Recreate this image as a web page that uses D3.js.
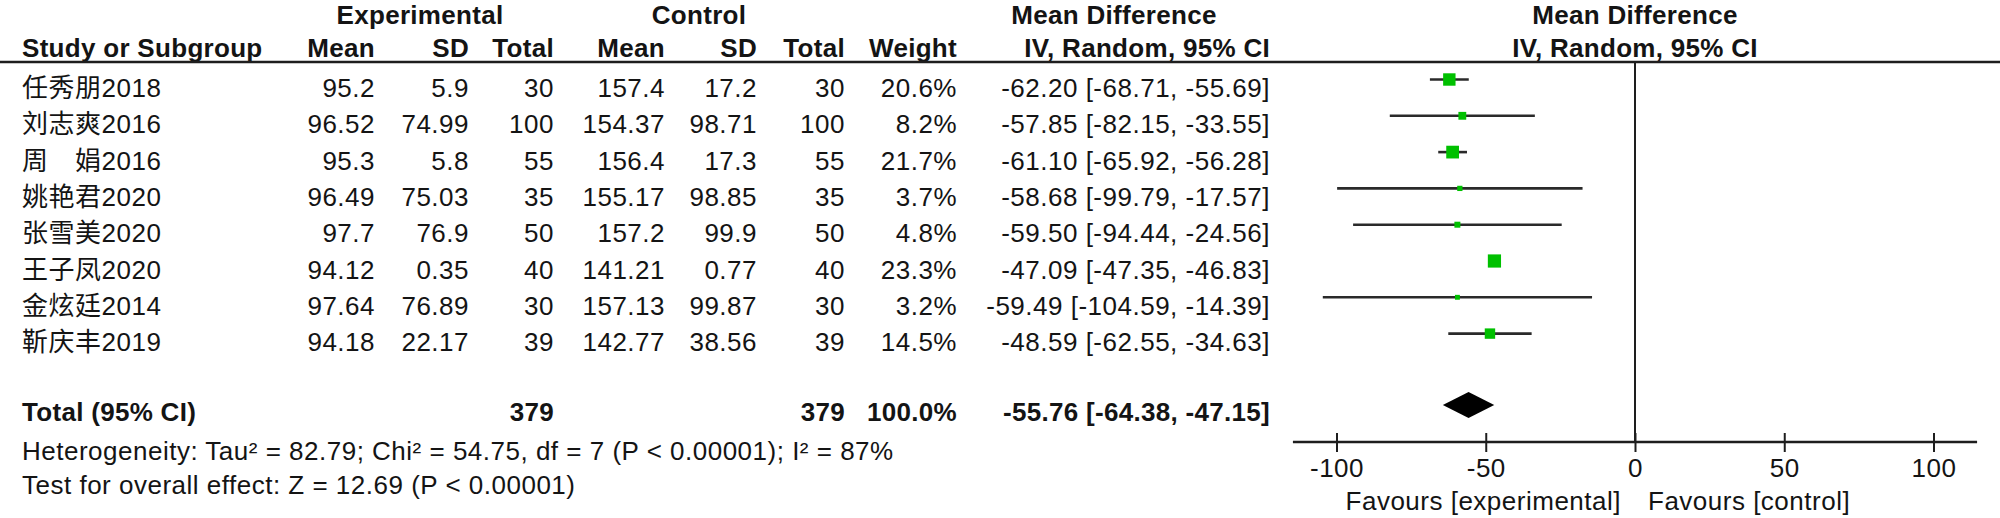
<!DOCTYPE html>
<html><head><meta charset="utf-8">
<script src="https://cdn.jsdelivr.net/npm/d3@7"></script>
<style>
html,body{margin:0;padding:0;background:#fff;}
svg text{font-family:"Liberation Sans",Arial,"Noto Sans CJK SC",sans-serif;fill:#141414;font-size:26px;}
</style></head><body><svg id="chart" width="2000" height="518"></svg>
<script>
// ---------------- data ----------------
const studies   = ["任秀朋2018","刘志爽2016","周　娟2016","姚艳君2020","张雪美2020","王子凤2020","金炫廷2014","靳庆丰2019"];
const expMean   = ["95.2","96.52","95.3","96.49","97.7","94.12","97.64","94.18"];
const expSD     = ["5.9","74.99","5.8","75.03","76.9","0.35","76.89","22.17"];
const expTotal  = [30,100,55,35,50,40,30,39];
const ctrlMean  = ["157.4","154.37","156.4","155.17","157.2","141.21","157.13","142.77"];
const ctrlSD    = ["17.2","98.71","17.3","98.85","99.9","0.77","99.87","38.56"];
const ctrlTotal = [30,100,55,35,50,40,30,39];
const weight    = [20.6,8.2,21.7,3.7,4.8,23.3,3.2,14.5];
const md        = [-62.20,-57.85,-61.10,-58.68,-59.50,-47.09,-59.49,-48.59];
const ciLow     = [-68.71,-82.15,-65.92,-99.79,-94.44,-47.35,-104.59,-62.55];
const ciHigh    = [-55.69,-33.55,-56.28,-17.57,-24.56,-46.83,-14.39,-34.63];
const totalLabel = "Total (95% CI)";
const totalExp = 379, totalCtrl = 379, totalWeight = 100.0;
const pooledMD = -55.76, pooledLow = -64.38, pooledHigh = -47.15;
const heterogeneityText = "Heterogeneity: Tau² = 82.79; Chi² = 54.75, df = 7 (P < 0.00001); I² = 87%";
const overallText = "Test for overall effect: Z = 12.69 (P < 0.00001)";
const tickValues = [-100,-50,0,50,100];
const axisExtent = [-114.6,114.6];
const favoursLabels = ["Favours [experimental]","Favours [control]"];
const groupHeaders = ["Experimental","Control","Mean Difference","Mean Difference"];
const colHeaders = ["Study or Subgroup","Mean","SD","Total","Mean","SD","Total","Weight","IV, Random, 95% CI","IV, Random, 95% CI"];

// ---------------- layout ----------------
const svg = d3.select("#chart");
svg.append("rect").attr("width",2000).attr("height",518).attr("fill","#fff");
const ink = "#1e1e1e";
const x = d3.scaleLinear().domain([-100,100]).range([1336.5,1933.5]);
const rowY = d3.scaleLinear().domain([0,studies.length-1]).range([79.5,333.6]);
const textOff = 17.5;
const boxSize = d3.scaleSqrt().domain([0,23.3]).range([0,13.2]);
const f2 = v => v.toFixed(2), f1 = v => v.toFixed(1);
const colRight = [null,375,469,554,665,757,845,957,1270];
const regSp = "0.5px";

function txt(g, s, xx, yy, anchor, bold){
  return g.append("text").attr("x",xx).attr("y",yy).attr("text-anchor",anchor)
    .style("font-weight",bold?"bold":"normal").style("letter-spacing",bold?"0.3px":regSp).text(s);
}

const head = svg.append("g");
// group headers
const gx = [420, 699, 1114, x(0)];
groupHeaders.forEach((h,i)=>txt(head,h,gx[i],24,"middle",true));
// column headers
txt(head,colHeaders[0],22,57,"start",true);
for(let i=1;i<=8;i++) txt(head,colHeaders[i],colRight[i],57,"end",true);
txt(head,colHeaders[9],x(0),57,"middle",true);
// header rule
head.append("line").attr("x1",0).attr("x2",2000).attr("y1",62).attr("y2",62)
  .attr("stroke",ink).attr("stroke-width",2.6);

// zero line
svg.append("line").attr("x1",x(0)).attr("x2",x(0)).attr("y1",62).attr("y2",442)
  .attr("stroke",ink).attr("stroke-width",2);

// study rows
const rows = svg.append("g");
studies.forEach((s,i)=>{
  const yb = rowY(i)+textOff;
  txt(rows,s,22,yb,"start",false);
  const vals = [expMean[i],expSD[i],expTotal[i],ctrlMean[i],ctrlSD[i],ctrlTotal[i],
    f1(weight[i])+"%", f2(md[i])+" ["+f2(ciLow[i])+", "+f2(ciHigh[i])+"]"];
  vals.forEach((v,j)=>txt(rows,String(v),colRight[j+1],yb,"end",false));
});

// CI lines and boxes
const plot = svg.append("g");
plot.selectAll("line.ci").data(studies).join("line").attr("class","ci")
  .attr("x1",(d,i)=>x(ciLow[i])).attr("x2",(d,i)=>x(ciHigh[i]))
  .attr("y1",(d,i)=>rowY(i)).attr("y2",(d,i)=>rowY(i))
  .attr("stroke","#2a2a2a").attr("stroke-width",2.6);
plot.selectAll("rect.box").data(studies).join("rect").attr("class","box")
  .attr("x",(d,i)=>x(md[i])-boxSize(weight[i])/2)
  .attr("y",(d,i)=>rowY(i)-boxSize(weight[i])/2)
  .attr("width",(d,i)=>boxSize(weight[i])).attr("height",(d,i)=>boxSize(weight[i]))
  .attr("fill","#00c000");

// total row
const totY = 405, totBase = 421;
const trow = svg.append("g");
txt(trow,totalLabel,22,totBase,"start",true);
txt(trow,String(totalExp),colRight[3],totBase,"end",true);
txt(trow,String(totalCtrl),colRight[6],totBase,"end",true);
txt(trow,f1(totalWeight)+"%",colRight[7],totBase,"end",true);
txt(trow,f2(pooledMD)+" ["+f2(pooledLow)+", "+f2(pooledHigh)+"]",colRight[8],totBase,"end",true);
const dh = 13;
plot.append("path").attr("d",d3.line()([[x(pooledLow),totY],[x(pooledMD),totY-dh],[x(pooledHigh),totY],[x(pooledMD),totY+dh]])+"Z")
  .attr("fill","#000");

// footnotes
txt(svg,heterogeneityText,22,460,"start",false);
txt(svg,overallText,22,494,"start",false);

// axis
const axisG = svg.append("g").attr("transform","translate(0,442)");
axisG.call(d3.axisBottom(x).tickValues(tickValues).tickSize(10).tickFormat(d => String(d)));
axisG.attr("font-family",null).attr("font-size",null);
axisG.select(".domain").remove();
axisG.append("line").attr("x1",x(axisExtent[0])).attr("x2",x(axisExtent[1])).attr("y1",0).attr("y2",0)
  .attr("stroke",ink).attr("stroke-width",2.6);
axisG.selectAll(".tick line").attr("y1",-9).attr("y2",10).attr("stroke",ink).attr("stroke-width",2);
axisG.selectAll(".tick text").attr("y",35).attr("dy",null).style("letter-spacing",regSp).attr("fill","#141414");

// favours labels
txt(svg,favoursLabels[0],x(0)-14,510,"end",false);
txt(svg,favoursLabels[1],x(0)+13,510,"start",false);
</script></body></html>
